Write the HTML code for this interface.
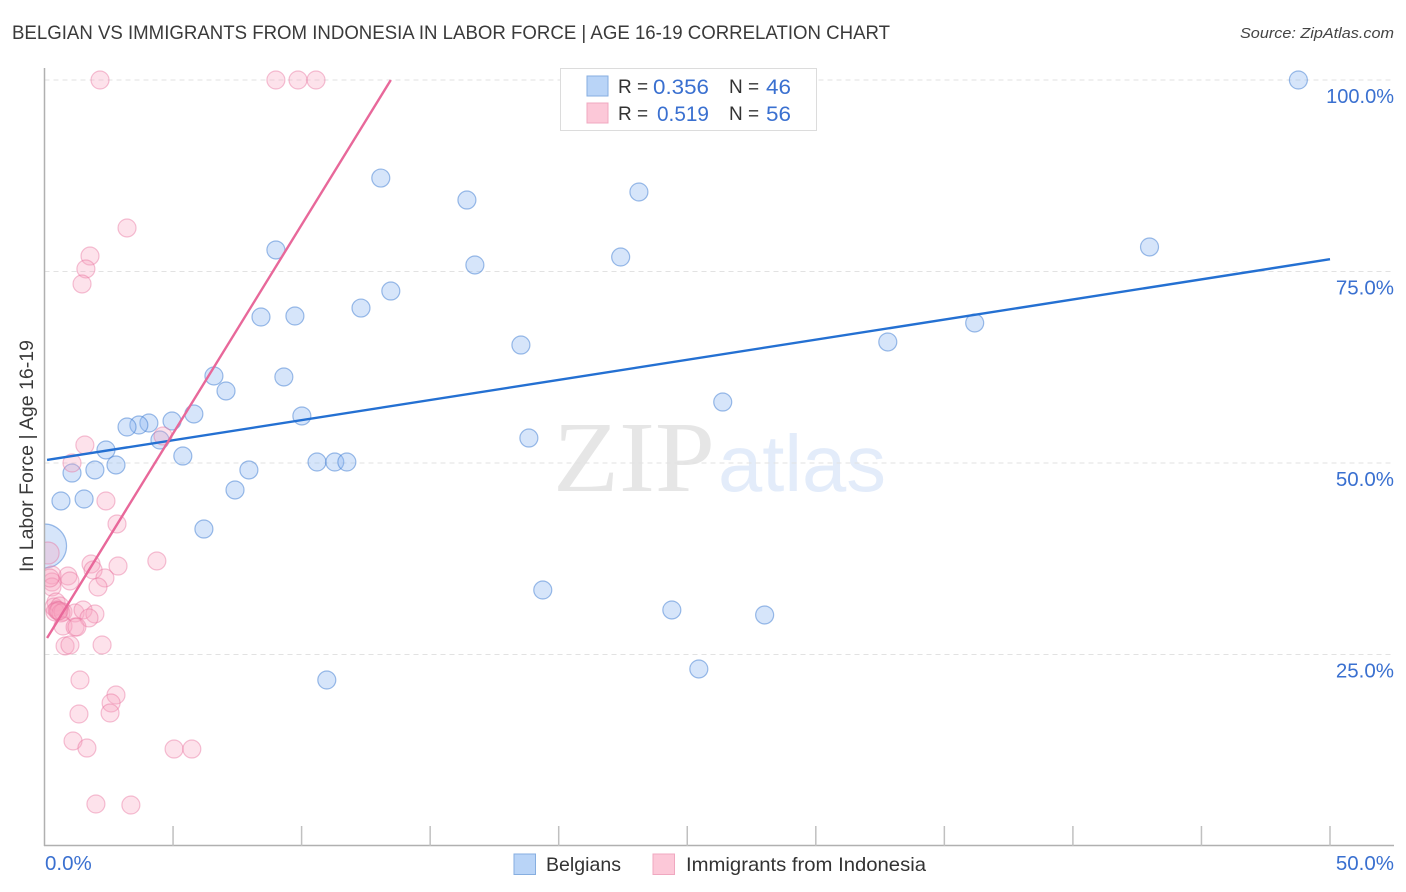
<!DOCTYPE html>
<html lang="en">
<head>
<meta charset="utf-8">
<title>Belgian vs Immigrants from Indonesia correlation chart</title>
<style>
html,body{margin:0;padding:0;background:#fff;width:1406px;height:892px;overflow:hidden}
svg{display:block}
text{font-family:"Liberation Sans",sans-serif}
</style>
</head>
<body>
<svg id="chart" xmlns="http://www.w3.org/2000/svg" width="1406" height="892" viewBox="0 0 1406 892">
  <defs>
    <clipPath id="plot-clip"><rect x="44.5" y="60" width="1350" height="786"/></clipPath>
  </defs>
  <text x="12" y="39" font-size="19" fill="#3a3a3a" textLength="878" lengthAdjust="spacingAndGlyphs">BELGIAN VS IMMIGRANTS FROM INDONESIA IN LABOR FORCE | AGE 16-19 CORRELATION CHART</text>
  <text x="1394" y="38" font-size="15" font-style="italic" fill="#444" text-anchor="end" textLength="154" lengthAdjust="spacingAndGlyphs">Source: ZipAtlas.com</text>
  <g>
    <text x="553" y="491" font-size="101" fill="#e6e6e6" textLength="162" lengthAdjust="spacingAndGlyphs" style="font-family:'Liberation Serif',serif">ZIP</text>
    <text x="718" y="491" font-size="80" fill="#e3ecfa" textLength="168" lengthAdjust="spacingAndGlyphs">atlas</text>
  </g>
  <g id="grid"></g>
  <g id="points" clip-path="url(#plot-clip)"></g>
  <g id="lines"></g>
  <g id="axes"></g>
  <text transform="translate(33,572) rotate(-90)" font-size="19" fill="#3a3a3a" textLength="232" lengthAdjust="spacingAndGlyphs">In Labor Force | Age 16-19</text>
  <g>
    <rect x="560.5" y="68.5" width="256" height="62" fill="#fff" stroke="#dcdcdc"/>
    <rect x="587" y="76" width="21" height="20" fill="#b9d4f7" stroke="#86aee0"/>
    <rect x="587" y="103" width="21" height="20" fill="#fcc8d8" stroke="#f0a8c0"/>
    <text x="618" y="93" font-size="19" fill="#333">R =</text>
    <text x="653" y="94" font-size="21.5" fill="#3a70d0" textLength="56" lengthAdjust="spacingAndGlyphs">0.356</text>
    <text x="729" y="93" font-size="19" fill="#333">N =</text>
    <text x="766" y="94" font-size="21.5" fill="#3a70d0" textLength="25" lengthAdjust="spacingAndGlyphs">46</text>
    <text x="618" y="120" font-size="19" fill="#333">R =</text>
    <text x="657" y="121" font-size="21.5" fill="#3a70d0" textLength="52" lengthAdjust="spacingAndGlyphs">0.519</text>
    <text x="729" y="120" font-size="19" fill="#333">N =</text>
    <text x="766" y="121" font-size="21.5" fill="#3a70d0" textLength="25" lengthAdjust="spacingAndGlyphs">56</text>
  </g>
  <g>
    <rect x="514" y="854" width="21.5" height="20.5" fill="#b9d4f7" stroke="#86aee0"/>
    <text x="546" y="871" font-size="19.5" fill="#333" textLength="75" lengthAdjust="spacingAndGlyphs">Belgians</text>
    <rect x="653" y="854" width="21.5" height="20.5" fill="#fcc8d8" stroke="#f0a8c0"/>
    <text x="686" y="871" font-size="19.5" fill="#333" textLength="240" lengthAdjust="spacingAndGlyphs">Immigrants from Indonesia</text>
  </g>
</svg>
<script>
const belgianX = [48.77,13.08,16.43,23.12,9.0,42.98,22.41,16.74,13.47,12.31,8.42,9.74,36.18,32.8,18.53,6.59,9.31,7.06,26.38,5.81,10.01,4.96,4.06,3.67,3.21,4.49,18.84,2.39,5.38,2.78,1.96,1.07,7.95,10.6,11.29,11.76,7.41,1.54,0.64,6.2,0.0,19.38,24.4,28.01,25.45,10.98];
const belgianY = [100,87.2,84.33,85.38,77.81,78.2,76.89,75.85,72.45,70.23,69.06,69.19,68.28,65.8,65.4,61.36,61.23,59.4,57.96,56.4,56.14,55.48,55.22,54.96,54.7,53.0,53.26,51.7,50.91,49.74,49.09,48.69,49.09,50.13,50.13,50.13,46.48,45.3,45.04,41.38,39.16,33.42,30.81,30.16,23.11,21.67];
const belgianWeight = [1,1,1,1,1,1,1,1,1,1,1,1,1,1,1,1,1,1,1,1,1,1,1,1,1,1,1,1,1,1,1,1,1,1,1,1,1,1,1,1,6,1,1,1,1,1];
const indonesiaX = [2.16,9,9.86,10.56,3.21,1.77,1.61,1.46,1.57,1.07,4.61,2.39,2.82,4.37,1.81,2.86,1.89,2.35,0.91,0.99,2.08,0.14,0.29,0.29,0.29,0.21,0.45,0.37,0.6,0.49,0.52,0.41,0.72,0.64,1.19,1.5,1.96,1.73,0.72,1.19,1.26,0.8,0.99,2.24,1.38,2.78,2.59,1.34,2.55,1.11,1.65,5.04,5.73,2.0,3.36,0.56];
const indonesiaY = [100,100,100,100,80.68,77.02,75.33,73.37,52.35,50.0,53.52,45.04,42.04,37.21,36.81,36.55,36.03,34.99,35.25,34.6,33.81,38.25,35.38,34.46,33.81,34.99,31.85,31.2,31.33,30.81,30.68,30.55,30.55,30.42,30.42,30.81,30.29,29.77,28.72,28.59,28.59,26.11,26.24,26.24,21.67,19.71,18.67,17.23,17.36,13.71,12.79,12.66,12.66,5.48,5.35,30.7];
const indonesiaWeight = [1,1,1,1,1,1,1,1,1,1,1,1,1,1,1,1,1,1,1,1,1,1.5,1,1,1,1,1,1,1,1,1,1,1,1,1,1,1,1,1,1,1,1,1,1,1,1,1,1,1,1,1,1,1,1,1,1];
const belgianTrend = [0.1,50.4,50,76.6];
const indonesiaTrend = [0.1,27.15,13.47,100];
const yTickValues = [25,50,75,100];
const yTickLabels = ["25.0%","50.0%","75.0%","100.0%"];
const xTickValues = [5,10,15,20,25,30,35,40,45,50];
const xEndLabels = ["0.0%","50.0%"];

const NS = 'http://www.w3.org/2000/svg';
const PLOT_LEFT = 44.5, PLOT_RIGHT = 1330, PLOT_TOP = 80, PLOT_BOTTOM = 846;
function xScale(v){ return PLOT_LEFT + (v / 50) * (PLOT_RIGHT - PLOT_LEFT); }
function yScale(v){ return PLOT_BOTTOM - (v / 100) * (PLOT_BOTTOM - PLOT_TOP); }
function make(tag, parent, attrs){
  const el = document.createElementNS(NS, tag);
  for (const k in attrs) el.setAttribute(k, attrs[k]);
  parent.appendChild(el);
  return el;
}
const grid = document.getElementById('grid');
const axes = document.getElementById('axes');
const points = document.getElementById('points');
const lines = document.getElementById('lines');

yTickValues.forEach(function(v, i){
  const g = make('line', grid, {x1:44.5, x2:1394, y1:yScale(v), y2:yScale(v), stroke:'#e2e2e2', 'stroke-width':1, 'stroke-dasharray':'5 4'});
  
  
  const t = make('text', axes, {x:1394, y:yScale(v) + 23, 'font-size':yTickLabels[i].length > 5 ? 20 : 20.5, fill:'#3a70d0', 'text-anchor':'end'});
  t.textContent = yTickLabels[i];
  
  
});

const yAxis = make('line', axes, {x1:44.5, x2:44.5, y1:68, y2:846, stroke:'#b0b0b0', 'stroke-width':1.5});


const xAxis = make('line', axes, {x1:44, x2:1394, y1:845.5, y2:845.5, stroke:'#b0b0b0', 'stroke-width':1.5});



xTickValues.forEach(function(v){
  const tk = make('line', axes, {x1:xScale(v), x2:xScale(v), y1:826, y2:846, stroke:'#c0c0c0', 'stroke-width':1.5});
  
  
});

const xStart = make('text', axes, {x:45, y:870, 'font-size':20.5, fill:'#3a70d0'});
xStart.textContent = xEndLabels[0];


const xEnd = make('text', axes, {x:1394, y:870, 'font-size':20.5, fill:'#3a70d0', 'text-anchor':'end'});
xEnd.textContent = xEndLabels[1];



function radius(w){ return w === 1 ? 9 : 9 * Math.sqrt(w); }

belgianX.forEach(function(v, i){
  const c = make('circle', points, {cx:xScale(v), cy:yScale(belgianY[i]), r:radius(belgianWeight[i]), fill:'rgba(140,182,240,0.36)', stroke:'rgba(62,124,210,0.5)', 'stroke-width':1.2});
  
  
});
indonesiaX.forEach(function(v, i){
  const c = make('circle', points, {cx:xScale(v), cy:yScale(indonesiaY[i]), r:radius(indonesiaWeight[i]), fill:'rgba(248,165,192,0.32)', stroke:'rgba(232,110,155,0.42)', 'stroke-width':1.2});
  
  
});

const blueLine = make('line', lines, {x1:xScale(belgianTrend[0]), y1:yScale(belgianTrend[1]), x2:xScale(belgianTrend[2]), y2:yScale(belgianTrend[3]), stroke:'#2470d2', 'stroke-width':2.4});


const pinkLine = make('line', lines, {x1:xScale(indonesiaTrend[0]), y1:yScale(indonesiaTrend[1]), x2:xScale(indonesiaTrend[2]), y2:yScale(indonesiaTrend[3]), stroke:'#e8689a', 'stroke-width':2.4});


</script>
</body>
</html>
